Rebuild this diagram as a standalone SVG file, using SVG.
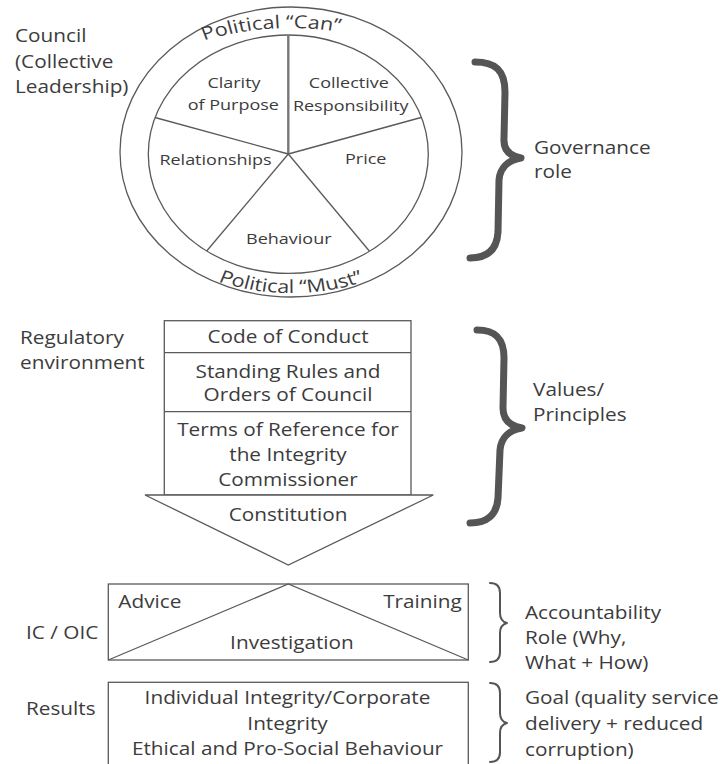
<svg xmlns="http://www.w3.org/2000/svg" width="721" height="764" viewBox="0 0 721 764">
  <defs>
    <style>
      .ln { fill: none; stroke: #5a5a5a; stroke-width: 1.3; }
      .box { fill: #ffffff; stroke: #5a5a5a; stroke-width: 1.3; }
      .brace-thick { fill: none; stroke: #555555; stroke-width: 7; stroke-linecap: round; stroke-linejoin: round; }
      .brace-thin { fill: none; stroke: #555555; stroke-width: 2; stroke-linecap: round; stroke-linejoin: round; }
      text { font-family: "Open Sans", "Noto Sans", "DejaVu Sans", sans-serif; fill: #3c3c3c; }
      .lbl { font-size: 17.3px; }
      .mid { font-size: 17.3px; text-anchor: middle; }
      .pie { font-size: 15px; text-anchor: middle; }
      .arc { font-size: 18px; }
    </style>
    <!-- arcs used for the curved ring captions (in the 1.2x horizontally scaled text space) -->
    <path id="arcTop" d="M92.5,87.1 A220 220 0 0 1 392.5,87.1"/>
    <path id="arcBottom" d="M92.5,203 A170 170 0 0 0 392.5,203"/>
  </defs>

  <rect width="721" height="764" fill="#ffffff"/>

  <!-- Council wheel -->
  <g id="wheel">
    <ellipse class="ln" cx="291" cy="152" rx="171" ry="145"/>
    <ellipse class="ln" cx="288.3" cy="154.2" rx="140" ry="119.2"/>
    <line x1="288.3" y1="35" x2="288.3" y2="154" stroke="#777777" stroke-width="2.4"/>
    <line class="ln" x1="288.3" y1="154" x2="155" y2="117.5"/>
    <line class="ln" x1="288.3" y1="154" x2="421" y2="117.5"/>
    <line class="ln" x1="288.3" y1="154" x2="206.7" y2="251"/>
    <line class="ln" x1="288.3" y1="154" x2="369.3" y2="251"/>
  </g>

  <!-- Regulatory environment stack with Constitution arrow -->
  <g id="regulatory">
    <rect class="box" x="164.3" y="320.7" width="246.7" height="174.3"/>
    <line class="ln" x1="164.3" y1="352.7" x2="411" y2="352.7"/>
    <line class="ln" x1="164.3" y1="411.7" x2="411" y2="411.7"/>
    <polygon class="box" points="145,495 433.3,495 288.3,565"/>
  </g>

  <!-- IC / OIC box -->
  <g id="ic-oic">
    <rect class="box" x="108.3" y="584" width="360" height="76"/>
    <polyline class="ln" points="108.3,660 288.3,584 468.3,660"/>
  </g>

  <!-- Results box (runs past the bottom edge) -->
  <g id="results">
    <rect class="box" x="108.3" y="682.3" width="360" height="90"/>
  </g>

  <!-- Braces -->
  <g id="connectors">
    <path class="brace-thick" d="M475,62 C495,62 505,70 505,92 L504,138 C503,150 510,156 521,158 C508,160 500,168 499,180 L498,232 C497,250 487,258 470,258"/>
    <path class="brace-thick" d="M477,330 C495,330 504,338 504,358 L503,408 C503,420 510,426 522,428 C509,430 501,438 500,450 L498,498 C497,515 487,523 470,523"/>
    <path class="brace-thin" d="M490,583 C497,583 500,587 500,593 L500,613 C500,619 503,622 507,623 C503,624 500,627 500,633 L500,652 C500,658 497,662 490,662"/>
    <path class="brace-thin" d="M490,683 C497,683 500,687 500,693 L500,713 C500,719 503,722 507,723 C503,724 500,727 500,733 L500,752 C500,758 497,762 490,762"/>
  </g>

  <!-- All captions, set in a horizontally widened text space -->
  <g id="labels" transform="scale(1.2 1)">
    <g id="council-label">
      <text class="lbl" x="12.5" y="42.2">Council</text>
      <text class="lbl" x="12.5" y="68">(Collective</text>
      <text class="lbl" x="12.5" y="93.5">Leadership)</text>
    </g>
    <g id="ring-captions">
      <text class="arc"><textPath href="#arcTop" startOffset="148.5" text-anchor="middle">Political “Can”</textPath></text>
      <text class="arc"><textPath href="#arcBottom" startOffset="50%" text-anchor="middle">Political “Must”</textPath></text>
    </g>
    <g id="segments">
      <text class="pie" x="195" y="88.4">Clarity</text>
      <text class="pie" x="194.4" y="110.4">of Purpose</text>
      <text class="pie" x="290.7" y="88.4">Collective</text>
      <text class="pie" x="292.3" y="111.4">Responsibility</text>
      <text class="pie" x="179.6" y="165.4">Relationships</text>
      <text class="pie" x="304.8" y="164.4">Price</text>
      <text class="pie" x="240.7" y="244.4">Behaviour</text>
    </g>
    <g id="governance-label">
      <text class="lbl" x="445" y="154">Governance</text>
      <text class="lbl" x="445" y="178">role</text>
    </g>
    <g id="regulatory-label">
      <text class="lbl" x="16.7" y="344.2">Regulatory</text>
      <text class="lbl" x="16.7" y="369.2">environment</text>
    </g>
    <g id="regulatory-text">
      <text class="mid" x="240" y="343">Code of Conduct</text>
      <text class="mid" x="240" y="378">Standing Rules and</text>
      <text class="mid" x="240" y="401.3">Orders of Council</text>
      <text class="mid" x="240" y="436.2">Terms of Reference for</text>
      <text class="mid" x="240" y="461.2">the Integrity</text>
      <text class="mid" x="240" y="486.2">Commissioner</text>
      <text class="mid" x="240" y="521.2">Constitution</text>
    </g>
    <g id="values-label">
      <text class="lbl" x="444.2" y="396.2">Values/</text>
      <text class="lbl" x="444.2" y="421.2">Principles</text>
    </g>
    <g id="ic-text">
      <text class="lbl" x="21.7" y="639.5">IC / OIC</text>
      <text class="lbl" x="98.6" y="608.5">Advice</text>
      <text class="lbl" x="384.8" y="608.5" text-anchor="end">Training</text>
      <text class="mid" x="243.3" y="649">Investigation</text>
    </g>
    <g id="accountability-label">
      <text class="lbl" x="437.5" y="619">Accountability</text>
      <text class="lbl" x="437.5" y="644.5">Role (Why,</text>
      <text class="lbl" x="437.5" y="669.5">What + How)</text>
    </g>
    <g id="results-text">
      <text class="lbl" x="21.7" y="715.5">Results</text>
      <text class="mid" x="239.6" y="704.5">Individual Integrity/Corporate</text>
      <text class="mid" x="239.6" y="730.2">Integrity</text>
      <text class="mid" x="239.6" y="755.5">Ethical and Pro-Social Behaviour</text>
    </g>
    <g id="goal-label">
      <text class="lbl" x="437.5" y="704.5">Goal (quality service</text>
      <text class="lbl" x="437.5" y="730">delivery + reduced</text>
      <text class="lbl" x="437.5" y="756">corruption)</text>
    </g>
  </g>
</svg>
